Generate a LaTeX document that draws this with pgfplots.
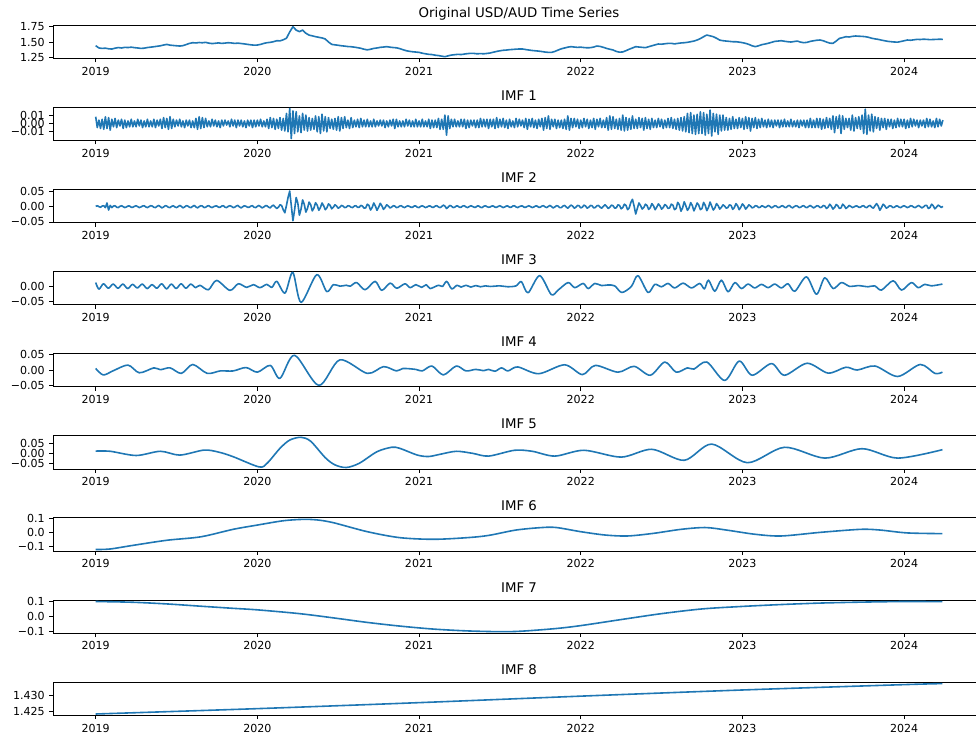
\documentclass[border=0pt]{standalone}
\usepackage{fontspec}
\setmainfont{DejaVu Sans}
\usepackage{pgfplots}
\usepackage{pgfplotstable}
\pgfplotsset{compat=1.18}
\definecolor{mplblue}{HTML}{1F77B4}

\pgfplotstableread[row sep=\\]{v\\
1.442\\1.405\\1.398\\1.402\\1.392\\1.388\\1.402\\1.412\\1.405\\1.415\\1.412\\1.418\\1.410\\1.405\\1.398\\1.402\\1.412\\1.418\\1.425\\1.432\\1.440\\1.452\\1.462\\1.450\\1.445\\
1.440\\1.436\\1.442\\1.460\\1.478\\1.489\\1.485\\1.492\\1.488\\1.495\\1.482\\1.475\\1.480\\1.486\\1.478\\1.483\\1.489\\1.485\\1.478\\1.482\\1.476\\1.470\\1.462\\1.455\\1.450\\
1.452\\1.462\\1.478\\1.489\\1.495\\1.505\\1.521\\1.518\\1.535\\1.560\\1.660\\1.744\\1.690\\1.665\\1.690\\1.640\\1.610\\1.598\\1.585\\1.575\\1.565\\1.548\\1.500\\1.462\\1.455\\
1.448\\1.440\\1.435\\1.428\\1.425\\1.418\\1.410\\1.400\\1.385\\1.375\\1.385\\1.398\\1.405\\1.415\\1.420\\1.426\\1.418\\1.412\\1.408\\1.395\\1.378\\1.362\\1.352\\1.345\\1.340\\
1.335\\1.322\\1.312\\1.304\\1.300\\1.290\\1.284\\1.275\\1.266\\1.280\\1.292\\1.298\\1.304\\1.300\\1.308\\1.315\\1.320\\1.318\\1.312\\1.316\\1.312\\1.318\\1.325\\1.338\\1.350\\
1.360\\1.368\\1.372\\1.378\\1.382\\1.386\\1.389\\1.389\\1.380\\1.372\\1.365\\1.360\\1.355\\1.348\\1.340\\1.335\\1.335\\1.350\\1.372\\1.392\\1.405\\1.418\\1.426\\1.420\\1.415\\
1.418\\1.412\\1.408\\1.410\\1.420\\1.436\\1.430\\1.415\\1.398\\1.385\\1.373\\1.350\\1.338\\1.342\\1.362\\1.385\\1.405\\1.426\\1.420\\1.415\\1.410\\1.425\\1.440\\1.455\\1.468\\
1.465\\1.472\\1.478\\1.479\\1.470\\1.478\\1.485\\1.489\\1.495\\1.505\\1.515\\1.532\\1.555\\1.585\\1.611\\1.598\\1.585\\1.560\\1.530\\1.521\\1.515\\1.510\\1.505\\1.505\\1.498\\
1.490\\1.478\\1.462\\1.440\\1.426\\1.440\\1.458\\1.468\\1.480\\1.495\\1.510\\1.515\\1.521\\1.512\\1.505\\1.500\\1.508\\1.515\\1.498\\1.489\\1.495\\1.510\\1.520\\1.528\\1.532\\
1.520\\1.500\\1.482\\1.479\\1.515\\1.558\\1.570\\1.585\\1.580\\1.590\\1.596\\1.592\\1.590\\1.585\\1.575\\1.560\\1.550\\1.542\\1.530\\1.520\\1.510\\1.505\\1.500\\1.498\\1.508\\
1.520\\1.532\\1.528\\1.535\\1.542\\1.540\\1.545\\1.542\\1.538\\1.540\\1.542\\1.545\\1.542\\
}\orig

\pgfplotstableread[row sep=\\]{v\\
0.008\\-0.005\\0.004\\-0.006\\0.005\\-0.007\\0.008\\-0.006\\0.007\\-0.008\\0.005\\-0.004\\0.006\\-0.005\\0.004\\-0.003\\0.005\\-0.006\\0.004\\-0.005\\0.003\\-0.004\\0.005\\-0.004\\0.003\\
-0.004\\0.005\\-0.003\\0.004\\-0.005\\0.003\\-0.004\\0.005\\-0.004\\0.003\\-0.004\\0.005\\-0.005\\0.004\\-0.003\\0.005\\-0.006\\0.007\\-0.005\\0.006\\-0.007\\0.008\\-0.006\\0.005\\-0.004\\
0.004\\-0.003\\0.005\\-0.004\\0.003\\-0.005\\0.004\\-0.003\\0.004\\-0.005\\0.003\\-0.005\\0.006\\-0.007\\0.008\\-0.006\\0.007\\-0.005\\0.006\\-0.004\\0.003\\-0.004\\0.005\\-0.003\\0.004\\
-0.004\\0.003\\-0.005\\0.004\\-0.003\\0.004\\-0.002\\0.003\\-0.004\\0.005\\-0.003\\0.004\\-0.005\\0.004\\-0.003\\0.004\\-0.004\\0.003\\-0.005\\0.004\\-0.003\\0.004\\-0.005\\0.004\\-0.004\\
0.004\\-0.003\\0.005\\-0.004\\0.003\\-0.004\\0.005\\-0.006\\0.007\\-0.005\\0.006\\-0.007\\0.005\\-0.006\\0.007\\-0.008\\0.006\\-0.009\\0.012\\-0.010\\0.018\\-0.018\\0.015\\-0.012\\0.014\\
-0.010\\0.009\\-0.011\\0.012\\-0.008\\0.010\\-0.009\\0.007\\-0.008\\0.006\\-0.007\\0.009\\-0.010\\0.008\\-0.012\\0.011\\-0.009\\0.008\\-0.010\\0.007\\-0.006\\0.005\\-0.007\\0.006\\-0.008\\
0.008\\-0.009\\0.007\\-0.006\\0.008\\-0.005\\0.004\\-0.006\\0.007\\-0.005\\0.004\\-0.004\\0.005\\-0.005\\0.006\\-0.004\\0.004\\-0.004\\0.005\\-0.004\\0.003\\-0.004\\0.005\\-0.004\\0.003\\
-0.003\\0.004\\-0.003\\0.004\\-0.005\\0.003\\-0.004\\0.004\\-0.003\\0.005\\-0.006\\0.005\\-0.004\\0.003\\-0.004\\0.003\\-0.004\\0.005\\-0.003\\0.004\\-0.004\\0.003\\-0.004\\0.005\\-0.004\\
0.003\\-0.004\\0.005\\-0.004\\0.003\\-0.004\\0.005\\-0.006\\0.004\\-0.005\\0.004\\-0.005\\0.006\\-0.007\\0.005\\-0.007\\0.010\\-0.014\\0.009\\-0.006\\0.005\\-0.004\\0.005\\-0.004\\0.003\\
-0.004\\0.005\\-0.004\\0.005\\-0.006\\0.004\\-0.005\\0.004\\-0.003\\0.004\\-0.005\\0.004\\-0.005\\0.006\\-0.004\\0.005\\-0.004\\0.005\\-0.006\\0.005\\-0.004\\0.005\\-0.006\\0.007\\-0.005\\
0.005\\-0.004\\0.006\\-0.005\\0.004\\-0.006\\0.005\\-0.004\\0.003\\-0.005\\0.006\\-0.004\\0.005\\-0.003\\0.004\\-0.005\\0.006\\-0.007\\0.005\\-0.004\\0.006\\-0.005\\0.004\\-0.006\\0.005\\
-0.004\\0.006\\-0.008\\0.007\\-0.006\\0.009\\-0.007\\0.005\\-0.004\\0.005\\-0.006\\0.004\\-0.005\\0.004\\-0.006\\0.005\\-0.007\\0.009\\-0.008\\0.006\\-0.005\\0.006\\-0.004\\0.005\\-0.006\\
0.004\\-0.005\\0.006\\-0.004\\0.005\\-0.006\\0.004\\-0.005\\0.006\\-0.007\\0.005\\-0.004\\0.006\\-0.005\\0.004\\-0.005\\0.007\\-0.008\\0.009\\-0.007\\0.008\\-0.006\\0.005\\-0.007\\0.006\\
-0.008\\0.010\\-0.009\\0.007\\-0.008\\0.006\\-0.007\\0.009\\-0.006\\0.005\\-0.006\\0.007\\-0.005\\0.006\\-0.008\\0.007\\-0.006\\0.005\\-0.007\\0.006\\-0.005\\0.004\\-0.005\\0.006\\-0.004\\
0.005\\-0.006\\0.004\\-0.005\\0.006\\-0.005\\0.007\\-0.006\\0.005\\-0.007\\0.006\\-0.008\\0.007\\-0.009\\0.008\\-0.010\\0.012\\-0.011\\0.013\\-0.012\\0.010\\-0.013\\0.011\\-0.012\\0.014\\
-0.012\\0.013\\-0.014\\0.011\\-0.012\\0.016\\-0.015\\0.012\\-0.010\\0.011\\-0.013\\0.010\\-0.009\\0.010\\-0.008\\0.007\\-0.008\\0.006\\-0.007\\0.008\\-0.006\\0.005\\-0.006\\0.007\\-0.005\\
0.006\\-0.007\\0.008\\-0.006\\0.007\\-0.009\\0.006\\-0.005\\0.007\\-0.006\\0.005\\-0.005\\0.006\\-0.004\\0.004\\-0.005\\0.005\\-0.004\\0.004\\-0.005\\0.004\\-0.003\\0.004\\-0.005\\0.004\\
-0.004\\0.005\\-0.004\\0.003\\-0.004\\0.005\\-0.004\\0.003\\-0.004\\0.004\\-0.005\\0.004\\-0.003\\0.004\\-0.005\\0.004\\-0.005\\0.006\\-0.005\\0.004\\-0.005\\0.006\\-0.005\\0.006\\-0.007\\
0.005\\-0.006\\0.007\\-0.005\\0.006\\-0.007\\0.009\\-0.011\\0.008\\-0.006\\0.010\\-0.012\\0.009\\-0.007\\0.006\\-0.005\\0.006\\-0.008\\0.010\\-0.009\\0.007\\-0.006\\0.008\\-0.007\\0.010\\
-0.012\\0.017\\-0.013\\0.010\\-0.009\\0.011\\-0.010\\0.008\\-0.006\\0.007\\-0.008\\0.006\\-0.005\\0.006\\-0.007\\0.005\\-0.004\\0.005\\-0.006\\0.004\\-0.005\\0.006\\-0.004\\0.005\\-0.004\\
0.005\\-0.006\\0.004\\-0.005\\0.006\\-0.004\\0.005\\-0.003\\0.004\\-0.005\\0.004\\-0.003\\0.004\\-0.005\\0.006\\-0.004\\0.005\\-0.004\\0.003\\-0.005\\0.006\\-0.004\\0.005\\-0.003\\0.004\\
}\imfone

\pgfplotstableread[row sep=\\]{v\\
0.001\\0.003\\0.000\\-0.002\\0.002\\0.003\\-0.003\\0.012\\-0.011\\0.004\\-0.003\\0.002\\0.003\\-0.002\\-0.003\\0.001\\0.003\\0.000\\-0.003\\-0.001\\0.002\\0.002\\-0.002\\-0.002\\0.001\\
0.003\\0.000\\-0.003\\-0.001\\0.002\\0.003\\-0.001\\-0.003\\0.000\\0.003\\0.002\\-0.002\\-0.003\\0.001\\0.004\\0.000\\-0.004\\-0.001\\0.003\\0.002\\-0.002\\-0.003\\0.001\\0.003\\-0.001\\
-0.003\\0.000\\0.004\\0.001\\-0.004\\-0.001\\0.003\\0.002\\-0.002\\-0.003\\0.001\\0.004\\-0.001\\-0.004\\0.000\\0.003\\0.002\\-0.003\\-0.002\\0.002\\0.003\\-0.001\\-0.003\\0.000\\0.002\\
0.002\\-0.002\\-0.002\\0.002\\0.003\\-0.002\\-0.003\\0.001\\0.003\\0.001\\-0.003\\-0.002\\0.002\\0.004\\-0.001\\-0.004\\0.000\\0.003\\0.001\\-0.002\\-0.002\\0.002\\0.003\\-0.002\\-0.003\\
0.001\\0.004\\0.000\\-0.004\\-0.001\\0.003\\0.003\\-0.002\\-0.004\\0.002\\0.005\\-0.001\\-0.006\\-0.002\\0.006\\0.004\\-0.010\\-0.020\\0.004\\0.030\\0.051\\0.004\\-0.046\\-0.012\\0.030\\
0.012\\-0.028\\-0.008\\0.022\\0.008\\-0.018\\-0.006\\0.015\\0.006\\-0.014\\-0.004\\0.013\\0.005\\-0.012\\-0.003\\0.012\\0.003\\-0.010\\-0.004\\0.009\\0.004\\-0.007\\-0.002\\0.006\\0.002\\
-0.005\\-0.002\\0.004\\0.002\\-0.003\\-0.002\\0.003\\0.002\\-0.002\\-0.003\\0.002\\0.003\\-0.002\\-0.002\\0.004\\0.002\\-0.005\\-0.004\\0.008\\0.004\\-0.011\\-0.003\\0.012\\0.002\\-0.012\\
-0.002\\0.011\\0.003\\-0.009\\-0.003\\0.006\\0.002\\-0.004\\-0.002\\0.003\\0.002\\-0.003\\-0.002\\0.002\\0.003\\-0.001\\-0.003\\0.000\\0.003\\0.001\\-0.002\\-0.002\\0.002\\0.002\\-0.002\\
-0.003\\0.001\\0.003\\0.000\\-0.003\\-0.001\\0.002\\0.002\\-0.002\\-0.002\\0.002\\0.003\\-0.001\\-0.003\\0.000\\0.005\\0.002\\-0.006\\-0.002\\0.004\\0.002\\-0.003\\-0.002\\0.002\\0.002\\
-0.002\\-0.002\\0.002\\0.003\\-0.001\\-0.003\\0.000\\0.003\\0.001\\-0.002\\-0.002\\0.002\\0.002\\-0.002\\-0.003\\0.001\\0.003\\0.000\\-0.002\\-0.001\\0.002\\0.002\\-0.002\\-0.002\\0.001\\
0.003\\0.000\\-0.003\\-0.001\\0.002\\0.002\\-0.002\\-0.002\\0.002\\0.003\\-0.001\\-0.003\\0.000\\0.002\\0.002\\-0.002\\-0.002\\0.001\\0.003\\0.000\\-0.003\\-0.001\\0.002\\0.002\\-0.002\\
-0.002\\0.002\\0.003\\-0.001\\-0.003\\0.001\\0.004\\0.000\\-0.004\\-0.001\\0.003\\0.002\\-0.003\\-0.003\\0.002\\0.004\\-0.001\\-0.005\\0.000\\0.005\\0.002\\-0.005\\-0.002\\0.004\\0.003\\
-0.004\\-0.002\\0.005\\0.002\\-0.005\\-0.002\\0.004\\0.003\\-0.004\\-0.003\\0.003\\0.004\\-0.002\\-0.005\\0.001\\0.006\\0.001\\-0.006\\-0.002\\0.005\\0.003\\-0.005\\-0.004\\0.006\\0.004\\
-0.007\\-0.003\\0.008\\0.004\\-0.010\\-0.004\\0.014\\0.024\\0.002\\-0.024\\-0.006\\0.012\\0.004\\-0.008\\-0.003\\0.008\\0.004\\-0.009\\-0.004\\0.010\\0.003\\-0.010\\-0.002\\0.009\\0.003\\
-0.008\\-0.003\\0.007\\0.003\\-0.006\\-0.004\\0.008\\0.005\\-0.010\\-0.006\\0.014\\0.006\\-0.015\\-0.004\\0.016\\0.003\\-0.012\\-0.004\\0.013\\0.004\\-0.014\\-0.002\\0.012\\0.005\\-0.010\\
-0.006\\0.014\\0.004\\-0.013\\-0.003\\0.015\\0.002\\-0.011\\-0.004\\0.010\\0.003\\-0.008\\-0.002\\0.006\\0.002\\-0.005\\-0.003\\0.006\\0.004\\-0.009\\-0.003\\0.010\\0.003\\-0.010\\-0.002\\
0.009\\0.003\\-0.008\\-0.002\\0.006\\0.002\\-0.004\\-0.002\\0.003\\0.002\\-0.003\\-0.002\\0.003\\0.001\\-0.003\\0.000\\0.004\\0.001\\-0.004\\-0.001\\0.003\\0.002\\-0.003\\-0.002\\0.002\\
0.003\\-0.002\\-0.003\\0.002\\0.004\\-0.001\\-0.004\\0.000\\0.003\\0.002\\-0.003\\-0.002\\0.002\\0.003\\-0.002\\-0.003\\0.001\\0.004\\0.000\\-0.004\\-0.001\\0.003\\0.002\\-0.003\\-0.002\\
0.004\\0.002\\-0.006\\-0.002\\0.008\\0.002\\-0.008\\-0.003\\0.007\\0.003\\-0.006\\-0.004\\0.008\\0.003\\-0.006\\-0.002\\0.004\\0.001\\-0.003\\-0.001\\0.002\\0.002\\-0.002\\-0.002\\0.002\\
0.003\\-0.002\\-0.003\\0.002\\0.004\\-0.002\\-0.005\\0.003\\0.010\\0.002\\-0.012\\-0.003\\0.008\\0.003\\-0.005\\-0.002\\0.003\\0.002\\-0.003\\-0.002\\0.002\\0.002\\-0.002\\-0.003\\0.001\\
0.003\\0.000\\-0.003\\-0.001\\0.003\\0.002\\-0.002\\-0.003\\0.001\\0.004\\0.000\\-0.004\\-0.001\\0.004\\0.004\\-0.006\\-0.003\\0.008\\0.003\\-0.007\\-0.002\\0.005\\0.002\\-0.003\\0.001\\
}\imftwo

\pgfplotsset{
  ln/.style={mplblue, line width=1.2pt, line join=round, no markers},
  imf/.style={
    scale only axis, width=698.6pt, height=24.9pt,
    anchor=north west,
    xmin=2018.738, xmax=2024.499,
    xtick={2019,2020,2021,2022,2023,2024},
    xticklabels={2019,2020,2021,2022,2023,2024},
    scaled y ticks=false, scaled x ticks=false,
    tick align=outside, xtick pos=left, ytick pos=left,
    major tick length=2.9pt,
    every tick/.style={black, line width=0.6pt},
    axis line style={black, line width=0.65pt},
    tick label style={font=\fontsize{8.3}{9.5}\selectfont},
    every axis title shift=0pt,
    title style={font=\fontsize{10}{12}\selectfont, at={(0.5,1)}, anchor=base, yshift=5.5pt},
  }
}

\begin{document}
\begin{tikzpicture}
\useasboundingbox (0,0) rectangle (732pt,553.5pt);

\begin{axis}[imf, at={(40pt,534.5pt)}, ymin=1.237, ymax=1.766,
  ytick={1.25,1.5,1.75}, yticklabels={1.25,1.50,1.75},
  title={Original USD/AUD Time Series}]
\addplot[ln] table[x expr=2019+0.02*\coordindex, y=v] {\orig};
\end{axis}

\begin{axis}[imf, at={(40pt,472.95pt)}, ymin=-0.0205, ymax=0.0192,
  ytick={-0.01,0,0.01}, yticklabels={−0.01,0.00,0.01}, title={IMF 1}]
\addplot[ln] table[x expr=2019+0.01*\coordindex, y=v] {\imfone};
\end{axis}

\begin{axis}[imf, at={(40pt,411.4pt)}, ymin=-0.0523, ymax=0.0562,
  ytick={-0.05,0,0.05}, yticklabels={−0.05,0.00,0.05}, title={IMF 2}]
\addplot[ln] table[x expr=2019+0.01*\coordindex, y=v] {\imftwo};
\end{axis}

\begin{axis}[imf, at={(40pt,349.8pt)}, ymin=-0.061, ymax=0.0495,
  ytick={-0.05,0}, yticklabels={−0.05,0.00}, title={IMF 3}]
\addplot[ln, smooth] coordinates {
(2019.000,0.013) (2019.020,-0.009) (2019.048,0.009) (2019.078,-0.006) (2019.108,0.008)
(2019.138,-0.006) (2019.168,0.008) (2019.198,-0.007) (2019.228,0.007) (2019.258,-0.005)
(2019.288,0.008) (2019.318,-0.007) (2019.348,0.006) (2019.378,-0.006) (2019.408,0.009)
(2019.438,-0.008) (2019.468,0.008) (2019.498,-0.007) (2019.528,0.009) (2019.558,-0.006)
(2019.588,0.008) (2019.618,-0.004) (2019.645,0.004) (2019.697,-0.011) (2019.748,0.020)
(2019.830,-0.013) (2019.882,0.009) (2019.934,-0.003) (2019.975,0.006) (2020.016,-0.004)
(2020.058,0.007) (2020.090,-0.003) (2020.120,0.017) (2020.171,-0.022) (2020.219,0.047)
(2020.270,-0.053) (2020.367,0.039) (2020.429,-0.017) (2020.470,0.006) (2020.511,0.001)
(2020.550,0.004) (2020.575,0.001) (2020.614,0.013) (2020.666,-0.011) (2020.728,0.017)
(2020.769,-0.013) (2020.821,0.011) (2020.862,-0.006) (2020.913,0.009) (2020.945,-0.004)
(2020.980,0.006) (2021.016,-0.003) (2021.045,0.006) (2021.068,-0.007) (2021.120,0.004)
(2021.145,0.000) (2021.171,0.017) (2021.202,-0.008) (2021.235,0.004) (2021.260,-0.002)
(2021.290,0.004) (2021.320,-0.002) (2021.350,0.003) (2021.380,-0.001) (2021.410,0.002)
(2021.440,0.000) (2021.500,0.002) (2021.550,-0.001) (2021.600,0.002) (2021.633,0.016)
(2021.674,-0.021) (2021.746,0.036) (2021.818,-0.027) (2021.860,-0.012) (2021.922,0.013)
(2021.963,-0.004) (2022.015,0.010) (2022.046,-0.007) (2022.087,0.010) (2022.128,0.003)
(2022.169,0.005) (2022.210,0.002) (2022.254,-0.020) (2022.313,0.000) (2022.354,0.036)
(2022.416,-0.020) (2022.458,0.007) (2022.499,-0.001) (2022.540,0.010) (2022.581,-0.005)
(2022.633,0.011) (2022.685,-0.005) (2022.736,0.010) (2022.765,-0.008) (2022.790,0.021)
(2022.829,-0.016) (2022.870,0.021) (2022.911,-0.018) (2022.953,0.013) (2022.994,-0.007)
(2023.035,0.008) (2023.076,-0.005) (2023.118,0.007) (2023.159,-0.004) (2023.200,0.008)
(2023.241,-0.005) (2023.282,0.009) (2023.324,-0.016) (2023.396,0.032) (2023.458,-0.026)
(2023.509,0.029) (2023.561,-0.007) (2023.612,0.013) (2023.664,0.000) (2023.715,0.003)
(2023.777,-0.001) (2023.818,0.002) (2023.860,-0.012) (2023.932,0.019) (2023.984,-0.012)
(2024.045,0.013) (2024.087,-0.004) (2024.128,0.007) (2024.169,0.002) (2024.237,0.008)
};
\end{axis}

\begin{axis}[imf, at={(40pt,288.2pt)}, ymin=-0.055, ymax=0.053,
  ytick={-0.05,0,0.05}, yticklabels={−0.05,0.00,0.05}, title={IMF 4}]
\addplot[ln, smooth] coordinates {
(2019.00,0.005) (2019.047,-0.016) (2019.11,-0.002) (2019.20,0.016) (2019.27,-0.009)
(2019.36,0.007) (2019.40,0.001) (2019.46,0.007) (2019.53,-0.011) (2019.60,0.018)
(2019.69,-0.011) (2019.77,-0.003) (2019.85,-0.003) (2019.93,0.008) (2020.00,-0.007)
(2020.08,0.015) (2020.14,-0.027) (2020.23,0.048) (2020.38,-0.050) (2020.51,0.033)
(2020.68,-0.011) (2020.78,0.011) (2020.86,-0.003) (2020.90,0.005) (2020.98,0.002)
(2021.02,-0.003) (2021.08,0.013) (2021.15,-0.016) (2021.23,0.013) (2021.29,-0.003)
(2021.35,0.002) (2021.40,-0.002) (2021.43,0.002) (2021.47,-0.004) (2021.51,0.007)
(2021.55,-0.003) (2021.61,0.010) (2021.74,-0.012) (2021.90,0.017) (2022.01,-0.015)
(2022.09,0.015) (2022.23,-0.007) (2022.33,0.012) (2022.43,-0.017) (2022.52,0.026)
(2022.59,-0.007) (2022.66,0.007) (2022.70,0.003) (2022.78,0.026) (2022.89,-0.034)
(2022.98,0.029) (2023.06,-0.017) (2023.18,0.021) (2023.26,-0.017) (2023.40,0.022)
(2023.53,-0.010) (2023.64,0.009) (2023.71,0.000) (2023.82,0.013) (2023.96,-0.021)
(2024.10,0.018) (2024.19,-0.011) (2024.237,-0.007)
};
\end{axis}

\begin{axis}[imf, at={(40pt,226.65pt)}, ymin=-0.0765, ymax=0.0895,
  ytick={-0.05,0,0.05}, yticklabels={−0.05,0.00,0.05}, title={IMF 5}]
\addplot[ln, smooth] coordinates {
(2019.00,0.013) (2019.09,0.012) (2019.25,-0.009) (2019.40,0.012) (2019.52,-0.007)
(2019.67,0.018) (2019.76,0.008) (2019.85,-0.015) (2020.01,-0.066) (2020.06,-0.048)
(2020.14,0.027) (2020.20,0.068) (2020.27,0.082) (2020.33,0.062) (2020.42,-0.020)
(2020.48,-0.056) (2020.55,-0.069) (2020.63,-0.048) (2020.74,0.010) (2020.83,0.032)
(2020.88,0.027) (2020.99,-0.007) (2021.06,-0.014) (2021.13,-0.003) (2021.23,0.012)
(2021.33,0.002) (2021.43,-0.012) (2021.59,0.017) (2021.70,0.012) (2021.84,-0.012)
(2022.02,0.017) (2022.25,-0.017) (2022.44,0.022) (2022.64,-0.033) (2022.81,0.048)
(2023.03,-0.045) (2023.26,0.032) (2023.51,-0.022) (2023.74,0.025) (2023.96,-0.022)
(2024.237,0.020)
};
\end{axis}

\begin{axis}[imf, at={(40pt,165.1pt)}, ymin=-0.133, ymax=0.107,
  ytick={-0.1,0,0.1}, yticklabels={−0.1,0.0,0.1}, title={IMF 6}]
\addplot[ln, smooth] coordinates {
(2019.00,-0.122) (2019.09,-0.118) (2019.23,-0.092) (2019.44,-0.055) (2019.65,-0.030)
(2019.85,0.024) (2020.00,0.055) (2020.16,0.086) (2020.28,0.096) (2020.37,0.092)
(2020.47,0.072) (2020.68,0.007) (2020.88,-0.036) (2021.09,-0.048) (2021.30,-0.036)
(2021.43,-0.020) (2021.60,0.019) (2021.76,0.037) (2021.85,0.037) (2022.00,0.007)
(2022.15,-0.017) (2022.29,-0.024) (2022.45,-0.005) (2022.62,0.024) (2022.77,0.037)
(2022.90,0.019) (2023.08,-0.012) (2023.24,-0.024) (2023.48,0.002) (2023.73,0.024)
(2023.85,0.019) (2024.02,-0.002) (2024.237,-0.007)
};
\end{axis}

\begin{axis}[imf, at={(40pt,103.5pt)}, ymin=-0.112, ymax=0.107,
  ytick={-0.1,0,0.1}, yticklabels={−0.1,0.0,0.1}, title={IMF 7}]
\addplot[ln, smooth] coordinates {
(2019.00,0.097) (2019.23,0.092) (2019.44,0.081) (2019.65,0.066) (2019.85,0.052)
(2020.00,0.042) (2020.26,0.017) (2020.47,-0.011) (2020.68,-0.041) (2020.88,-0.065)
(2021.09,-0.085) (2021.30,-0.097) (2021.50,-0.102) (2021.63,-0.099) (2021.84,-0.082)
(2022.00,-0.062) (2022.25,-0.022) (2022.50,0.017) (2022.75,0.048) (2022.99,0.064)
(2023.24,0.077) (2023.49,0.087) (2023.74,0.093) (2024.00,0.097) (2024.237,0.096)
};
\end{axis}

\begin{axis}[imf, at={(40pt,41.9pt)}, ymin=1.42384, ymax=1.43407,
  ytick={1.425,1.430}, yticklabels={1.425,1.430}, title={IMF 8}]
\addplot[ln, smooth] coordinates {
(2019.00,1.42425) (2020.00,1.42590) (2021.00,1.42775) (2022.00,1.42975)
(2023.00,1.43165) (2024.00,1.43330) (2024.237,1.43362)
};
\end{axis}

\end{tikzpicture}
\end{document}
